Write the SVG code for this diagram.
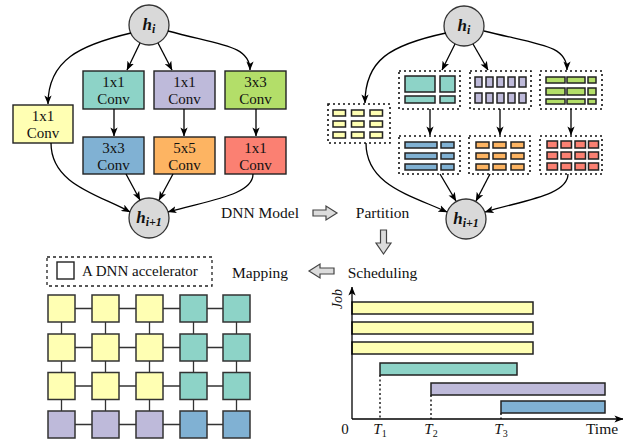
<svg xmlns="http://www.w3.org/2000/svg" width="631" height="439" viewBox="0 0 631 439" font-family="'Liberation Serif', 'DejaVu Serif', serif">
<defs>
<marker id="ah" viewBox="0 0 10 8" refX="9.5" refY="4" markerWidth="9" markerHeight="7.5" orient="auto" markerUnits="userSpaceOnUse">
<path d="M0,0 L10,4 L0,8 L2.5,4 z" fill="#000"/>
</marker>
<style>
text{font-family:"Liberation Serif","DejaVu Serif",serif;fill:#111}
.lbl{font-size:15px}
.box{stroke:#222;stroke-width:1.4}
.node{fill:#d9d9d9;stroke:#333;stroke-width:1.3}
.math{font-style:italic;font-size:17px;font-weight:bold}
.edge{fill:none;stroke:#000;stroke-width:1.3;marker-end:url(#ah)}
.dot{fill:none;stroke:#111;stroke-width:1.6;stroke-dasharray:2,3}
.cell{stroke:#222;stroke-width:1.5}
.pe{stroke:#333;stroke-width:1.5}
.link{stroke:#333;stroke-width:1.3}
.barr{stroke:#222;stroke-width:1.5}
.blk{fill:#dcdcdc;stroke:#444;stroke-width:1.2}
.y{fill:#FFFFB3}.t{fill:#8DD3C7}.p{fill:#BEBADA}.g{fill:#B3DE69}.b{fill:#80B1D3}.o{fill:#FDB462}.r{fill:#FB8072}
</style>
</defs>

<!-- Left DNN model -->
<g id="L-hi"><circle class="node" cx="149" cy="25" r="20"/><text x="149" y="30" text-anchor="middle" class="math">h<tspan font-size="12" dy="3">i</tspan></text></g>
<g id="L-y"><rect class="box y" x="13" y="105" width="60" height="38"/><text class="lbl" x="43" y="121" text-anchor="middle">1x1</text><text class="lbl" x="43" y="138" text-anchor="middle">Conv</text></g>
<g id="L-t"><rect class="box t" x="83" y="71" width="61" height="38"/><text class="lbl" x="113.5" y="87" text-anchor="middle">1x1</text><text class="lbl" x="113.5" y="104" text-anchor="middle">Conv</text></g>
<g id="L-p"><rect class="box p" x="154" y="71" width="61" height="38"/><text class="lbl" x="184.5" y="87" text-anchor="middle">1x1</text><text class="lbl" x="184.5" y="104" text-anchor="middle">Conv</text></g>
<g id="L-g"><rect class="box g" x="225" y="71" width="61" height="38"/><text class="lbl" x="255.5" y="87" text-anchor="middle">3x3</text><text class="lbl" x="255.5" y="104" text-anchor="middle">Conv</text></g>
<g id="L-b"><rect class="box b" x="83" y="137" width="61" height="37"/><text class="lbl" x="113.5" y="153" text-anchor="middle">3x3</text><text class="lbl" x="113.5" y="170" text-anchor="middle">Conv</text></g>
<g id="L-o"><rect class="box o" x="154" y="137" width="61" height="37"/><text class="lbl" x="184.5" y="153" text-anchor="middle">5x5</text><text class="lbl" x="184.5" y="170" text-anchor="middle">Conv</text></g>
<g id="L-r"><rect class="box r" x="225" y="137" width="61" height="37"/><text class="lbl" x="255.5" y="153" text-anchor="middle">1x1</text><text class="lbl" x="255.5" y="170" text-anchor="middle">Conv</text></g>
<g id="L-hi1"><circle class="node" cx="149" cy="218" r="20"/><text x="149" y="223" text-anchor="middle" class="math">h<tspan font-size="12" dy="3">i+1</tspan></text></g>

<!-- Right partition -->
<g id="R-hi"><circle class="node" cx="464" cy="26" r="20"/><text x="464" y="31" text-anchor="middle" class="math">h<tspan font-size="12" dy="3">i</tspan></text></g>
<g id="R-y">
<rect class="dot" x="328" y="104" width="62" height="39"/>
<rect class="cell y" x="333" y="110" width="12.5" height="6"/><rect class="cell y" x="351.5" y="110" width="12.5" height="6"/><rect class="cell y" x="370" y="110" width="12.5" height="6"/>
<rect class="cell y" x="333" y="121" width="12.5" height="6"/><rect class="cell y" x="351.5" y="121" width="12.5" height="6"/><rect class="cell y" x="370" y="121" width="12.5" height="6"/>
<rect class="cell y" x="333" y="132" width="12.5" height="6"/><rect class="cell y" x="351.5" y="132" width="12.5" height="6"/><rect class="cell y" x="370" y="132" width="12.5" height="6"/>
</g>
<g id="R-t">
<rect class="dot" x="399" y="71" width="61" height="38"/>
<rect class="cell t" x="405" y="76" width="30" height="16"/><rect class="cell t" x="440" y="76" width="15" height="16"/>
<rect class="cell t" x="405" y="96" width="30" height="7"/><rect class="cell t" x="440" y="96" width="15" height="7"/>
</g>
<g id="R-p">
<rect class="dot" x="470" y="71" width="61" height="38"/>
<rect class="cell p" x="475" y="77" width="7" height="10"/><rect class="cell p" x="486" y="77" width="7" height="10"/><rect class="cell p" x="497" y="77" width="7" height="10"/><rect class="cell p" x="508" y="77" width="7" height="10"/><rect class="cell p" x="519" y="77" width="7" height="10"/>
<rect class="cell p" x="475" y="93" width="7" height="10"/><rect class="cell p" x="486" y="93" width="7" height="10"/><rect class="cell p" x="497" y="93" width="7" height="10"/><rect class="cell p" x="508" y="93" width="7" height="10"/><rect class="cell p" x="519" y="93" width="7" height="10"/>
</g>
<g id="R-g">
<rect class="dot" x="540" y="71" width="62" height="38"/>
<rect class="cell g" x="546" y="77" width="19" height="6"/><rect class="cell g" x="567" y="77" width="18" height="6"/><rect class="cell g" x="588" y="77" width="8" height="6"/>
<rect class="cell g" x="546" y="88" width="19" height="7"/><rect class="cell g" x="567" y="88" width="18" height="7"/><rect class="cell g" x="588" y="88" width="8" height="7"/>
<rect class="cell g" x="546" y="99" width="19" height="5"/><rect class="cell g" x="567" y="99" width="18" height="5"/><rect class="cell g" x="588" y="99" width="8" height="5"/>
</g>
<g id="R-b">
<rect class="dot" x="399" y="136" width="61" height="38"/>
<rect class="cell b" x="405" y="142" width="32" height="6"/><rect class="cell b" x="441" y="142" width="13" height="6"/>
<rect class="cell b" x="405" y="153" width="32" height="6"/><rect class="cell b" x="441" y="153" width="13" height="6"/>
<rect class="cell b" x="405" y="164" width="32" height="6"/><rect class="cell b" x="441" y="164" width="13" height="6"/>
</g>
<g id="R-o">
<rect class="dot" x="469" y="136" width="61" height="38"/>
<rect class="cell o" x="476" y="142" width="13" height="6"/><rect class="cell o" x="493" y="142" width="13" height="6"/><rect class="cell o" x="511" y="142" width="13" height="6"/>
<rect class="cell o" x="476" y="153" width="13" height="6"/><rect class="cell o" x="493" y="153" width="13" height="6"/><rect class="cell o" x="511" y="153" width="13" height="6"/>
<rect class="cell o" x="476" y="164" width="13" height="6"/><rect class="cell o" x="493" y="164" width="13" height="6"/><rect class="cell o" x="511" y="164" width="13" height="6"/>
</g>
<g id="R-r">
<rect class="dot" x="540" y="136" width="62" height="38"/>
<rect class="cell r" x="547" y="141" width="10.5" height="7"/><rect class="cell r" x="561" y="141" width="10.5" height="7"/><rect class="cell r" x="575" y="141" width="10.5" height="7"/><rect class="cell r" x="588.5" y="141" width="10" height="7"/>
<rect class="cell r" x="547" y="152" width="10.5" height="7"/><rect class="cell r" x="561" y="152" width="10.5" height="7"/><rect class="cell r" x="575" y="152" width="10.5" height="7"/><rect class="cell r" x="588.5" y="152" width="10" height="7"/>
<rect class="cell r" x="547" y="163" width="10.5" height="7"/><rect class="cell r" x="561" y="163" width="10.5" height="7"/><rect class="cell r" x="575" y="163" width="10.5" height="7"/><rect class="cell r" x="588.5" y="163" width="10" height="7"/>
</g>
<g id="R-hi1"><circle class="node" cx="466" cy="219" r="20"/><text x="466" y="224" text-anchor="middle" class="math">h<tspan font-size="12" dy="3">i+1</tspan></text></g>

<!-- connectors -->
<g id="connectors">
<path class="edge" d="M131,33 C80,45 48,60 48,104"/>
<path class="edge" d="M140,43 L127,70"/>
<path class="edge" d="M158,43 L172,70"/>
<path class="edge" d="M168,31 C220,45 250,45 250,70"/>
<path class="edge" d="M114,109 L114,136"/>
<path class="edge" d="M184,109 L184,136"/>
<path class="edge" d="M256,109 L256,136"/>
<path class="edge" d="M51,143 C51,185 100,195 130,212"/>
<path class="edge" d="M126,174 L140,200"/>
<path class="edge" d="M173,174 L159,200"/>
<path class="edge" d="M253,174 C253,195 210,200 168,212"/>

<path class="edge" d="M446,33 C390,45 365,60 365,103"/>
<path class="edge" d="M455,44 L442,70"/>
<path class="edge" d="M473,44 L488,70"/>
<path class="edge" d="M484,31 C540,45 567,45 567,70"/>
<path class="edge" d="M430,109 L430,135"/>
<path class="edge" d="M500,109 L500,135"/>
<path class="edge" d="M571,109 L571,135"/>
<path class="edge" d="M366,143 C366,185 410,195 447,212"/>
<path class="edge" d="M440,174 L456,201"/>
<path class="edge" d="M490,174 L476,201"/>
<path class="edge" d="M568,174 C568,195 525,200 485,212"/>
</g>

<!-- pipeline labels -->
<g id="flow">
<text x="260" y="218" text-anchor="middle" font-size="15.5">DNN Model</text>
<path class="blk" d="M313,210 L326,210 L326,206 L337,213 L326,220 L326,216 L313,216 z"/>
<text x="382.5" y="218" text-anchor="middle" font-size="15.5">Partition</text>
<path class="blk" d="M380.5,230 L386.5,230 L386.5,243 L391,243 L383.5,254 L376,243 L380.5,243 z"/>
<text x="382.5" y="278" text-anchor="middle" font-size="15.5">Scheduling</text>
<path class="blk" d="M334,268 L320,268 L320,264 L309,271 L320,278 L320,274 L334,274 z"/>
<text x="260" y="278" text-anchor="middle" font-size="15.5">Mapping</text>
</g>

<!-- legend and mesh -->
<g id="legend">
<rect x="47" y="257" width="165" height="29" fill="none" stroke="#222" stroke-width="1.3" stroke-dasharray="3,3"/>
<rect x="57" y="262" width="17" height="17" fill="#fff" stroke="#222" stroke-width="1.4"/>
<text x="82" y="276" font-size="15">A DNN accelerator</text>
</g>
<g id="mesh">
<g class="link">
<line x1="61.5" y1="308.5" x2="236.5" y2="308.5"/><line x1="61.5" y1="347.5" x2="236.5" y2="347.5"/><line x1="61.5" y1="386" x2="236.5" y2="386"/><line x1="61.5" y1="424.5" x2="236.5" y2="424.5"/>
<line x1="61.5" y1="308.5" x2="61.5" y2="424.5"/><line x1="105.5" y1="308.5" x2="105.5" y2="424.5"/><line x1="149.5" y1="308.5" x2="149.5" y2="424.5"/><line x1="193.5" y1="308.5" x2="193.5" y2="424.5"/><line x1="236.5" y1="308.5" x2="236.5" y2="424.5"/>
</g>
<rect class="pe y" x="48" y="295" width="27" height="27"/><rect class="pe y" x="92" y="295" width="27" height="27"/><rect class="pe y" x="136" y="295" width="27" height="27"/><rect class="pe t" x="180" y="295" width="27" height="27"/><rect class="pe t" x="223" y="295" width="27" height="27"/>
<rect class="pe y" x="48" y="334" width="27" height="27"/><rect class="pe y" x="92" y="334" width="27" height="27"/><rect class="pe y" x="136" y="334" width="27" height="27"/><rect class="pe t" x="180" y="334" width="27" height="27"/><rect class="pe t" x="223" y="334" width="27" height="27"/>
<rect class="pe y" x="48" y="372.5" width="27" height="27"/><rect class="pe y" x="92" y="372.5" width="27" height="27"/><rect class="pe y" x="136" y="372.5" width="27" height="27"/><rect class="pe t" x="180" y="372.5" width="27" height="27"/><rect class="pe t" x="223" y="372.5" width="27" height="27"/>
<rect class="pe p" x="48" y="411" width="27" height="27"/><rect class="pe p" x="92" y="411" width="27" height="27"/><rect class="pe p" x="136" y="411" width="27" height="27"/><rect class="pe b" x="180" y="411" width="27" height="27"/><rect class="pe b" x="223" y="411" width="27" height="27"/>
</g>

<!-- Gantt chart -->
<g id="gantt">
<rect class="barr y" x="352" y="302" width="181" height="12"/>
<rect class="barr y" x="352" y="322" width="181" height="12"/>
<rect class="barr y" x="352" y="342" width="181" height="12"/>
<rect class="barr t" x="380" y="363" width="137" height="12"/>
<rect class="barr p" x="431" y="383" width="174" height="12"/>
<rect class="barr b" x="501" y="401" width="104" height="12"/>
<g stroke="#111" stroke-width="1.4" stroke-dasharray="2,2.5">
<line x1="380" y1="375" x2="380" y2="419"/>
<line x1="431" y1="395" x2="431" y2="419"/>
<line x1="501" y1="413" x2="501" y2="419"/>
</g>
<path class="edge" d="M352,419 L352,287" stroke-width="1.6"/>
<path class="edge" d="M352,419 L623,419" stroke-width="1.6"/>
<text transform="translate(342,299) rotate(-90)" text-anchor="middle" font-size="14" font-style="italic">Job</text>
<text x="345" y="434" text-anchor="middle" font-size="15">0</text>
<text x="380" y="434" text-anchor="middle" font-size="15" font-style="italic">T<tspan font-size="10" font-style="normal" dy="3">1</tspan></text>
<text x="431" y="434" text-anchor="middle" font-size="15" font-style="italic">T<tspan font-size="10" font-style="normal" dy="3">2</tspan></text>
<text x="501" y="434" text-anchor="middle" font-size="15" font-style="italic">T<tspan font-size="10" font-style="normal" dy="3">3</tspan></text>
<text x="602" y="434" text-anchor="middle" font-size="15.5">Time</text>
</g>
</svg>
